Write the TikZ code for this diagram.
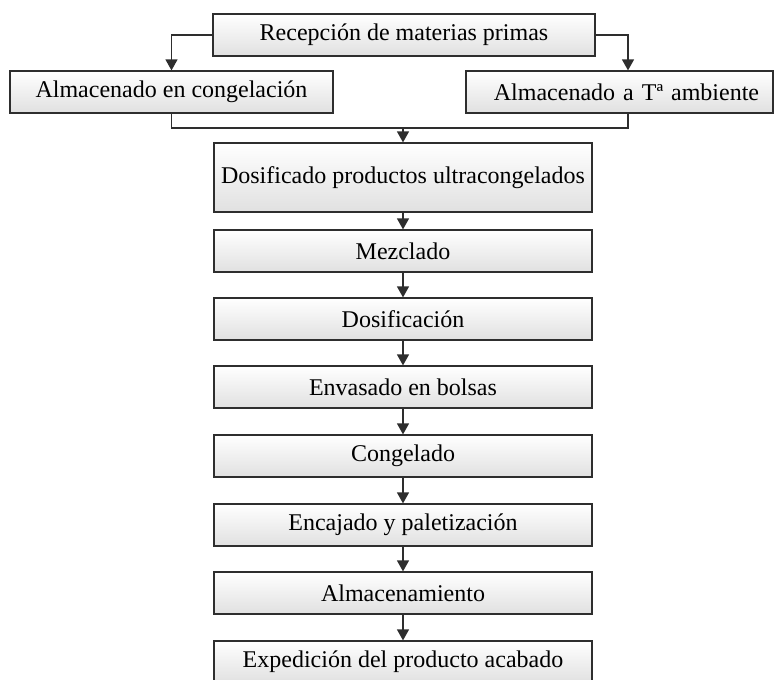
\documentclass[tikz,border=0pt]{standalone}
\usepackage{fontspec}
\setmainfont{Liberation Serif}
\usetikzlibrary{arrows.meta,calc}
\definecolor{edge}{HTML}{2E2E2E}
\tikzset{
  procbox/.style={draw=edge, line width=1.2pt, rectangle, inner sep=0pt,
    minimum height=42pt, top color=white, bottom color=black!12,
    font=\fontsize{24}{28}\selectfont, text=black},
  colbox/.style={procbox, minimum width=378pt},
  link/.style={draw=edge, line width=1.2pt},
  arr/.style={link, -{Triangle[width=12pt,length=11pt]}}
}
\begin{document}
\begin{tikzpicture}[x=1pt,y=-1pt]
\useasboundingbox (0,0) rectangle (777,680);

% reception and the two storage branches
\node[procbox, minimum width=382pt] (rec) at (404,35) {Recepción de materias primas};
\node[procbox, minimum width=323pt] (cong) at (171.5,92) {Almacenado en congelación};
\node[procbox, minimum width=307pt, text width=307pt, align=center] (amb) at (619.5,92)
  {\hspace*{14pt}Almacenado a Tª ambiente};

% main processing column
\node[colbox, minimum height=69pt] (dosu) at (403,177.5) {Dosificado productos ultracongelados};
\node[colbox] (mez)  at (403,251) {Mezclado};
\node[colbox] (dosf) at (403,319) {Dosificación};
\node[colbox] (env)  at (403,387) {Envasado en bolsas};
\node[colbox] (cng)  at (403,456) {Congelado};
\node[colbox] (enc)  at (403,525) {Encajado y paletización};
\node[colbox] (alm)  at (403,593) {Almacenamiento};
\node[colbox] (exp)  at (403,662) {Expedición del producto acabado};

% branching from reception
\draw[arr] (rec.west) -| (cong.north);
\coordinate (ambtop) at ([xshift=8.5pt]amb.north);
\coordinate (ambbot) at ([xshift=8.5pt]amb.south);
\draw[arr] (rec.east) -| (ambtop);

% merging both stores into the column
\coordinate (join) at (dosu.north |- 0,128);
\draw[link] (cong.south) |- (join) -| (ambbot);
\draw[arr] (join) -- (dosu.north);

% sequential steps
\draw[arr] (dosu) -- (mez);
\draw[arr] (mez) -- (dosf);
\draw[arr] (dosf) -- (env);
\draw[arr] (env) -- (cng);
\draw[arr] (cng) -- (enc);
\draw[arr] (enc) -- (alm);
\draw[arr] (alm) -- (exp);
\end{tikzpicture}
\end{document}
